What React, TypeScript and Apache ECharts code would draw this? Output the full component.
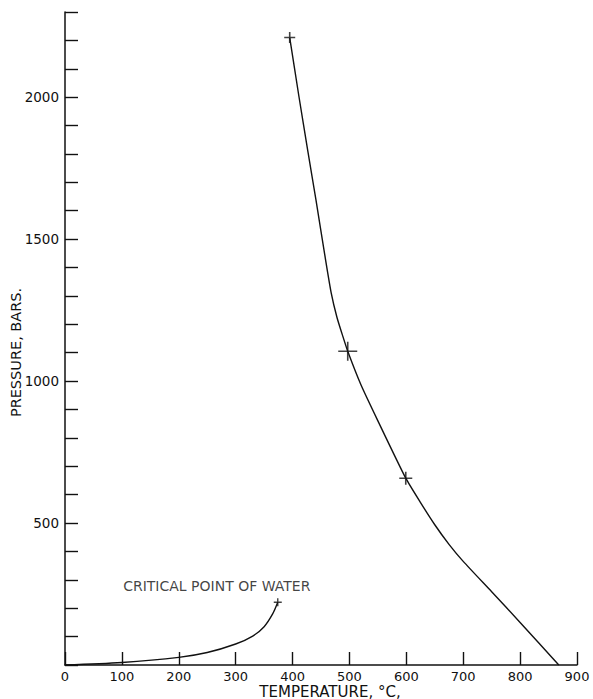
import React, { useEffect, useRef } from "react";
import * as echarts from "echarts";

// Temperature (°C) / pressure (bars) pairs along the upper curve
const upperCurve: [number, number][] = [
  [395, 2210], [411, 2005], [427, 1808], [441, 1640], [457, 1440],
  [468, 1310], [478, 1225], [488, 1160], [497, 1105], [520, 988],
  [550, 860], [599, 658], [625, 572], [650, 494], [675, 425],
  [700, 365], [750, 258], [800, 150], [868, 0],
];

// Vapour-pressure curve of water up to its critical point
const waterCurve: [number, number][] = [
  [0, 0], [100, 9], [200, 27], [250, 44], [300, 74], [330, 102],
  [350, 135], [365, 180], [374, 221],
];

// Measured points marked with crosses, and their cross sizes
const measured: [number, number][] = [[395, 2210], [497, 1105], [599, 658]];
const measuredSize = [11, 19, 13];

const criticalPoint: [number, number] = [374, 221];

const xTicks = { min: 0, max: 900, step: 100 };
const yTicks = { min: 0, max: 2300, step: 100, labelEvery: 500 };

const INK = "#111111";
const FONT = "DejaVu Sans";
const PLUS = "path://M0,10L20,10M10,0L10,20";

export default function App() {
  const ref = useRef<HTMLDivElement>(null);

  useEffect(() => {
    if (!ref.current) return;
    const chart = echarts.init(ref.current, null, { renderer: "svg" });
    chart.setOption({
      animation: false,
      backgroundColor: "#ffffff",
      grid: { left: 65, right: 16, top: 12, bottom: 34, outerBoundsMode: "none", containLabel: false },
      xAxis: {
        type: "value",
        min: xTicks.min,
        max: xTicks.max,
        interval: xTicks.step,
        name: "TEMPERATURE, °C,",
        nameLocation: "middle",
        nameGap: 19,
        nameMoveOverlap: false,
        nameTextStyle: {
          color: INK,
          fontFamily: FONT,
          fontSize: 15,
          lineHeight: 15,
          padding: [0, 0, 0, 18],
        },
        axisLine: { show: true, lineStyle: { color: INK, width: 1.5 } },
        axisTick: { show: true, inside: true, length: 13, lineStyle: { color: INK, width: 1.4 } },
        axisLabel: { color: INK, fontFamily: FONT, fontSize: 13, lineHeight: 13, margin: 5 },
        splitLine: { show: false },
      },
      yAxis: {
        type: "value",
        min: yTicks.min,
        max: yTicks.max,
        interval: yTicks.step,
        name: "PRESSURE, BARS.",
        nameLocation: "middle",
        nameGap: 42,
        nameMoveOverlap: false,
        nameRotate: 90,
        nameTextStyle: {
          color: INK,
          fontFamily: FONT,
          fontSize: 14.5,
          padding: [0, 28, 0, 0],
        },
        axisLine: { show: true, lineStyle: { color: INK, width: 1.5 } },
        axisTick: { show: true, inside: true, length: 13, lineStyle: { color: INK, width: 1.4 } },
        axisLabel: {
          color: INK,
          fontFamily: FONT,
          fontSize: 13.5,
          margin: 6,
          formatter: (v: number) =>
            v !== 0 && v % yTicks.labelEvery === 0 ? String(v) : "",
        },
        splitLine: { show: false },
      },
      series: [
        {
          type: "line",
          data: upperCurve,
          smooth: 0.2,
          symbol: "none",
          lineStyle: { color: INK, width: 1.4 },
        },
        {
          type: "line",
          data: waterCurve,
          smooth: 0.3,
          symbol: "none",
          lineStyle: { color: INK, width: 1.4 },
        },
        {
          type: "scatter",
          data: measured.map((p, i) => ({ value: p, symbolSize: measuredSize[i] })),
          symbol: PLUS,
          itemStyle: { color: "none", borderColor: INK, borderWidth: 1.6 },
        },
        {
          type: "scatter",
          data: [criticalPoint],
          symbol: PLUS,
          symbolSize: 8,
          itemStyle: { color: "none", borderColor: INK, borderWidth: 1.4 },
          label: {
            show: true,
            position: "top",
            offset: [-61, 2],
            formatter: "CRITICAL POINT OF WATER",
            color: INK,
            fontFamily: FONT,
            fontSize: 14,
          },
        },
      ],
    });
    return () => chart.dispose();
  }, []);

  return (
    <div
      ref={ref}
      style={{ position: "fixed", left: 0, top: 0, width: 593, height: 699, background: "#fff" }}
    />
  );
}
